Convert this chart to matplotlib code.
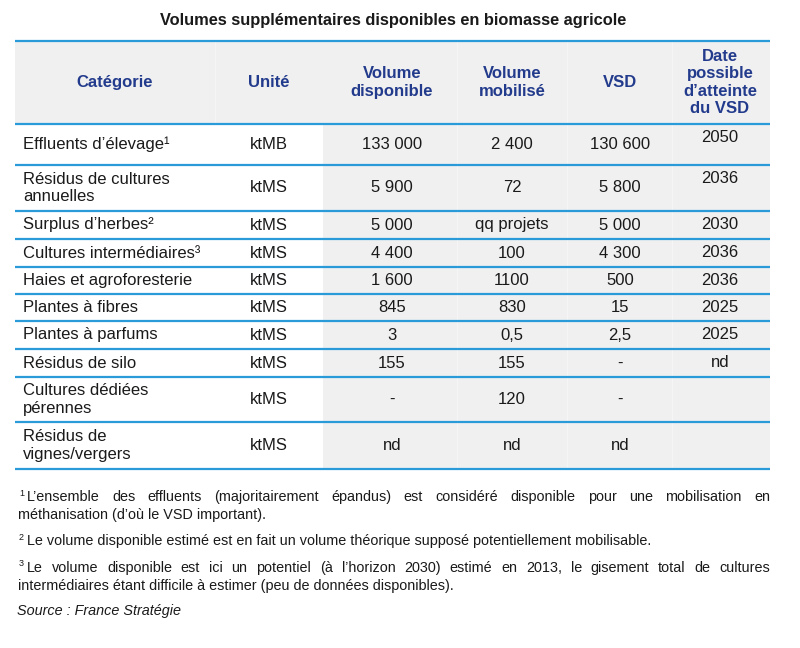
import matplotlib.pyplot as plt
from matplotlib.patches import Rectangle

# police proche d'Arial
plt.rcParams['font.family'] = ['Liberation Sans', 'DejaVu Sans']

# données du tableau
titre = "Volumes supplémentaires disponibles en biomasse agricole"
entetes = ["Catégorie", "Unité", "Volume\ndisponible", "Volume\nmobilisé", "VSD",
           "Date\npossible\nd’atteinte\ndu VSD"]
categories = ["Effluents d’élevage¹", "Résidus de cultures\nannuelles", "Surplus d’herbes²",
              "Cultures intermédiaires³", "Haies et agroforesterie", "Plantes à fibres",
              "Plantes à parfums", "Résidus de silo", "Cultures dédiées\npérennes",
              "Résidus de\nvignes/vergers"]
unites = ["ktMB", "ktMS", "ktMS", "ktMS", "ktMS", "ktMS", "ktMS", "ktMS", "ktMS", "ktMS"]
vol_dispo = ["133 000", "5 900", "5 000", "4 400", "1 600", "845", "3", "155", "-", "nd"]
vol_mobilise = ["2 400", "72", "qq projets", "100", "1100", "830", "0,5", "155", "120", "nd"]
vsd = ["130 600", "5 800", "5 000", "4 300", "500", "15", "2,5", "-", "-", "nd"]
dates = ["2050", "2036", "2030", "2036", "2036", "2025", "2025", "nd", "", ""]

# notes : (numéro, lignes, lignes justifiées)
notes = [
    ("1", ["L’ensemble des effluents (majoritairement épandus) est considéré disponible pour une mobilisation en",
           "méthanisation (d’où le VSD important)."], [True, False]),
    ("2", ["Le volume disponible estimé est en fait un volume théorique supposé potentiellement mobilisable."], [False]),
    ("3", ["Le volume disponible est ici un potentiel (à l’horizon 2030) estimé en 2013, le gisement total de cultures",
           "intermédiaires étant difficile à estimer (peu de données disponibles)."], [True, False]),
]
source = "Source : France Stratégie"

# mise en page (pixels)
BLEU = '#2a9ad8'
GRIS = '#f0f0f0'
MARINE = '#233b8c'
X0, X1, XGRIS = 15, 770, 323
col_x = [115, 269, 392, 512, 620, 720]
y_haut = 41
h_entete = 83
h_lignes = [41, 46, 28, 28, 27, 27, 28, 28, 45, 47]

fig = plt.figure(figsize=(8, 6.48), dpi=100)
ax = fig.add_axes([0, 0, 1, 1])
ax.set_xlim(0, 800)
ax.set_ylim(648, 0)
ax.axis('off')

ax.text(393, 20, titre, ha='center', va='center', fontsize=11.8, fontweight='bold', color='#1a1a1a')

# bords des lignes
bords = [y_haut, y_haut + h_entete]
for h in h_lignes:
    bords.append(bords[-1] + h)

# fonds gris
ax.add_patch(Rectangle((X0, bords[0]), X1 - X0, bords[1] - bords[0], color=GRIS, lw=0, zorder=0))
ax.add_patch(Rectangle((XGRIS, bords[1]), X1 - XGRIS, bords[-1] - bords[1], color=GRIS, lw=0, zorder=0))
for xs in [215, 457, 567, 672]:
    ax.plot([xs, xs], [bords[0], bords[-1]], color='white', lw=0.4, alpha=0.7, zorder=1)
for yb in bords:
    ax.plot([X0, X1], [yb, yb], color=BLEU, lw=1.6, zorder=2, solid_capstyle='butt')

# en-têtes
yc = (bords[0] + bords[1]) / 2
for x, t in zip(col_x, entetes):
    ax.text(x, yc, t, ha='center', va='center', fontsize=12, fontweight='bold',
            color=MARINE, linespacing=1.22)

# corps du tableau
for i in range(len(categories)):
    top, bas = bords[i + 1], bords[i + 2]
    yc = (top + bas) / 2
    ax.text(23, yc, categories[i], ha='left', va='center', fontsize=12, color='#1a1a1a', linespacing=1.18)
    for x, v in zip(col_x[1:5], [unites[i], vol_dispo[i], vol_mobilise[i], vsd[i]]):
        ax.text(x, yc, v, ha='center', va='center', fontsize=12, color='#1a1a1a')
    ax.text(col_x[5], min(yc, top + 13.5), dates[i], ha='center', va='center', fontsize=12, color='#1a1a1a')

# notes de bas de page, justifiées
fig.canvas.draw()
rend = fig.canvas.get_renderer()
FS = 10.4


def largeur(s):
    t = ax.text(0, 0, s, fontsize=FS)
    w = t.get_window_extent(renderer=rend).width
    t.remove()
    return w


y_notes = [[497, 515], [541], [568, 586]]
for (num, lignes, just), ys in zip(notes, y_notes):
    ax.text(19, ys[0] - 4, num, fontsize=6.5, ha='left', va='center', color='#1a1a1a')
    for k, (ligne, j, y) in enumerate(zip(lignes, just, ys)):
        xd = 27 if k == 0 else 18
        if not j:
            ax.text(xd, y, ligne, fontsize=FS, ha='left', va='center', color='#1a1a1a')
            continue
        mots = ligne.split(' ')
        ws = [largeur(m) for m in mots]
        gap = (X1 - xd - sum(ws)) / (len(mots) - 1)
        x = xd
        for m, w in zip(mots, ws):
            ax.text(x, y, m, fontsize=FS, ha='left', va='center', color='#1a1a1a')
            x += w + gap

ax.text(17, 611, source, fontsize=FS, style='italic', ha='left', va='center', color='#1a1a1a')

fig.savefig('out.png', dpi=100)
